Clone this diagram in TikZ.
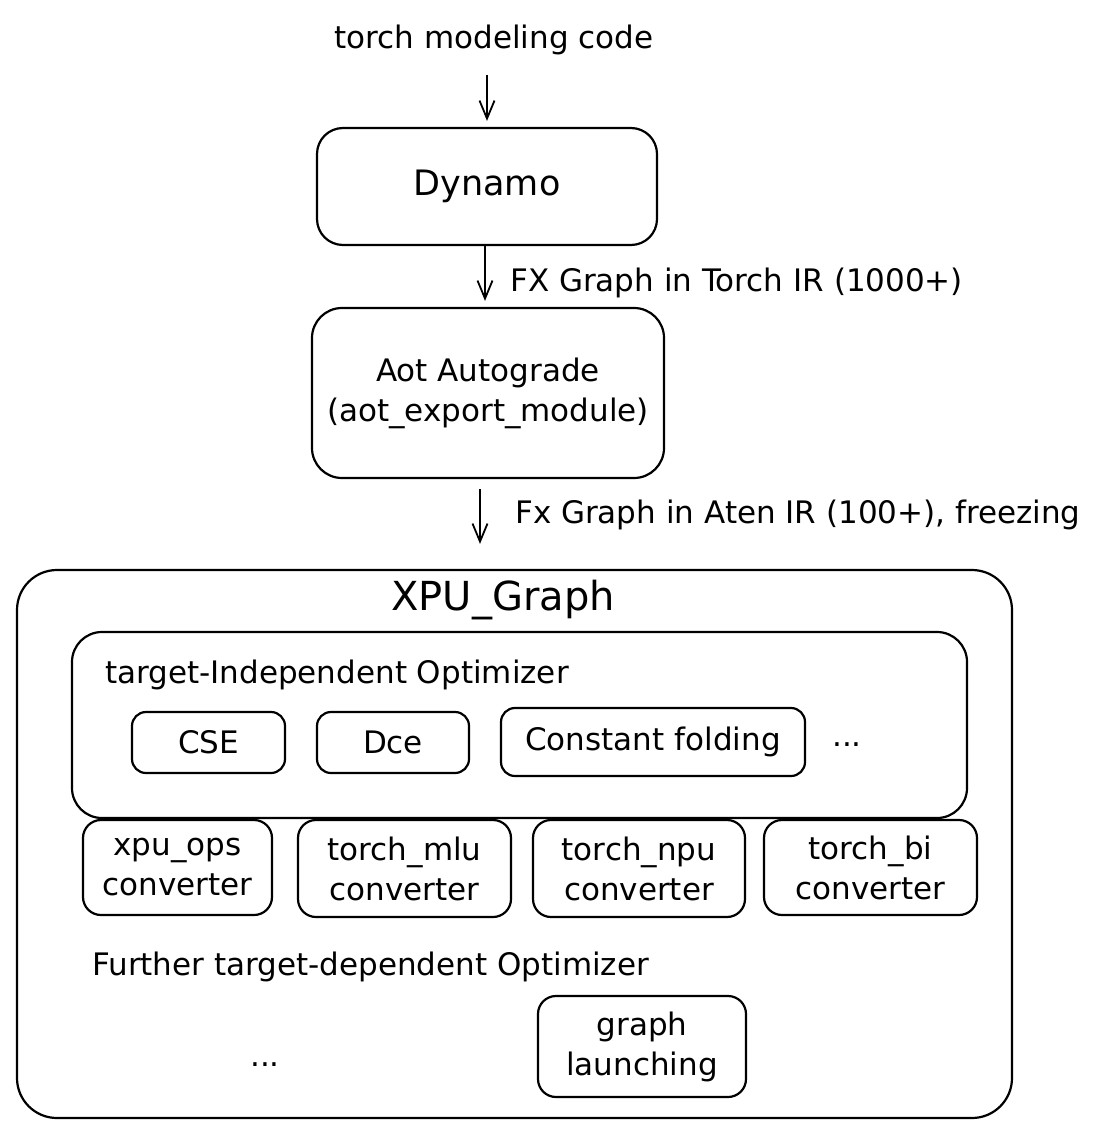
\documentclass[tikz,border=0pt]{standalone}
\usepackage{fontspec}
\setmainfont{DejaVu Sans}
\usetikzlibrary{arrows.meta}
\begin{document}
\begin{tikzpicture}[x=1pt,y=-1pt,
  every node/.style={font=\fontsize{31}{40}\selectfont, inner sep=0pt},
  box/.style={draw, line width=2.2pt, rounded corners=18pt, align=center},
  bigbox/.style={draw, line width=2.2pt, rounded corners=30pt},
  arr/.style={line width=1.8pt, -{Straight Barb[length=18pt,width=15pt,line width=1.8pt]}},
  lbl/.style={anchor=west},
  title/.style={font=\fontsize{35}{42}\selectfont},
  xtitle/.style={font=\fontsize{40}{46}\selectfont}]
\useasboundingbox (0,0) rectangle (1118,1148);
\fill[white] (0,0) rectangle (1118,1148);

\node (src) at (494,40) {torch modeling code};
\coordinate (srcend) at (487,75);

\node[box, minimum width=340pt, minimum height=117pt, rounded corners=26pt, title] (dyn) at (487,186.5) {Dynamo};
\node[box, minimum width=352pt, minimum height=170pt, rounded corners=30pt] (aot) at (488,393) {Aot Autograde\\(aot\_export\_module)};

\node[bigbox, minimum width=995pt, minimum height=548pt, rounded corners=40pt] (xpu) at (514.5,844) {};
\node[xtitle] (xputitle) at (503,600) {XPU\_Graph};

\node[bigbox, minimum width=895pt, minimum height=186pt, rounded corners=30pt] (tio) at (519.5,725) {};
\node[lbl] (tiolbl) at (105,675) {target-Independent Optimizer};
\node[box, minimum width=153pt, minimum height=61pt, rounded corners=14pt] (cse) at (208.5,742.5) {CSE};
\node[box, minimum width=152pt, minimum height=61pt, rounded corners=14pt] (dce) at (393,742.5) {Dce};
\node[box, minimum width=304pt, minimum height=68pt, rounded corners=14pt] (cf) at (653,742) {Constant folding};
\node (dots1) at (847,745) {...};

\node[box, minimum width=189pt, minimum height=95pt] (c1) at (177.5,867.5) {xpu\_ops\\converter};
\node[box, minimum width=213pt, minimum height=97pt] (c2) at (404.5,868.5) {torch\_mlu\\converter};
\node[box, minimum width=212pt, minimum height=97pt] (c3) at (639,868.5) {torch\_npu\\converter};
\node[box, minimum width=213pt, minimum height=95pt] (c4) at (870.5,867.5) {torch\_bi\\converter};

\node[lbl] (ftd) at (92,967) {Further target-dependent Optimizer};
\node (dots2) at (265,1065) {...};
\node[box, minimum width=208pt, minimum height=101pt] (gl) at (642,1046.5) {graph\\launching};

\draw[arr, shorten >=6pt] (srcend) -- (srcend |- dyn.north);
\draw[arr, shorten >=6pt] ([xshift=-2pt]dyn.south) -- ([xshift=-3pt]aot.north);
\draw[arr, shorten <=10pt, shorten >=25pt] ([xshift=-8pt]aot.south) -- ([xshift=-8pt]aot.south |- xpu.north);

\node[lbl] (l1) at (510,283) {FX Graph in Torch IR (1000+)};
\node[lbl] (l2) at (515,515) {Fx Graph in Aten IR (100+), freezing};
\end{tikzpicture}
\end{document}
